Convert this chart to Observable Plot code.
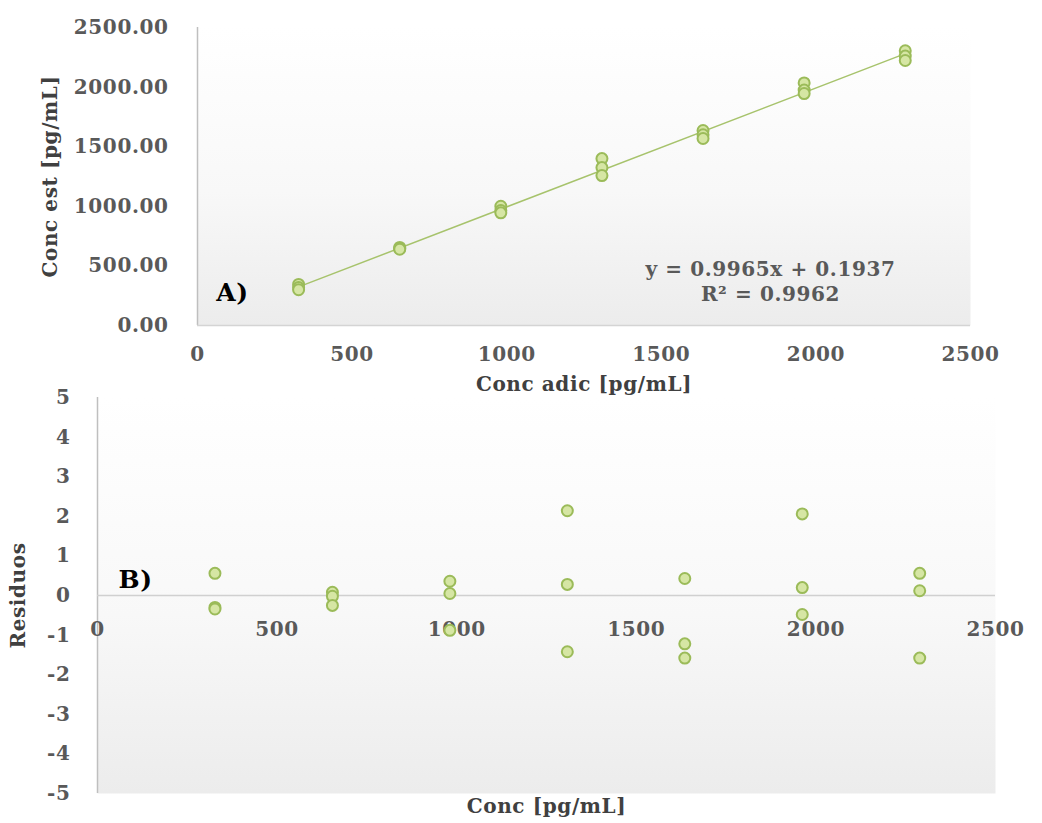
<!DOCTYPE html>
<html>
<head>
<meta charset="utf-8">
<script src="https://cdn.jsdelivr.net/npm/d3@7"></script>
<script src="https://cdn.jsdelivr.net/npm/@observablehq/plot@0.6"></script>
<style>
  html, body { margin: 0; padding: 0; background: #ffffff; }
  #wrap { position: relative; width: 1042px; height: 823px; overflow: hidden; }
  #wrap svg { position: absolute; left: 0; }
</style>
</head>
<body>
<div id="wrap"></div>
<script>
// ---- Data ----
const concLevels = [327, 654, 981, 1308, 1635, 1962, 2289];
const concEst = [
  [345, 318, 300],
  [655, 646, 640],
  [1000, 965, 945],
  [1400, 1325, 1258],
  [1636, 1600, 1569],
  [2035, 1975, 1946],
  [2305, 2260, 2223]
];
const residuos = [
  [0.56, -0.30, -0.34],
  [0.08, -0.02, -0.25],
  [0.36, 0.05, -0.88],
  [2.14, 0.28, -1.42],
  [0.43, -1.22, -1.58],
  [2.06, 0.20, -0.48],
  [0.56, 0.12, -1.58]
];
const xTicksA = [0, 500, 1000, 1500, 2000, 2500];
const yTicksA = [0, 500, 1000, 1500, 2000, 2500];
const xTicksB = [0, 500, 1000, 1500, 2000, 2500];
const yTicksB = [-5, -4, -3, -2, -1, 0, 1, 2, 3, 4, 5];
const equationLines = ["y = 0.9965x + 0.1937", "R² = 0.9962"];

// ---- Tables ----
const dataA = concLevels.flatMap((c, i) => concEst[i].map(v => ({x: c, y: v})));
const dataB = concLevels.flatMap((c, i) => residuos[i].map(v => ({x: c, y: v})));

const FONT = "'DejaVu Serif', 'Liberation Serif', serif";
const TICK = "#595959";
const TITLE = "#404040";
const FS = 20;
const PT_FILL = "#d6e6a4";
const PT_STROKE = "#9bbb59";

function addGradient(svg, id) {
  const ns = "http://www.w3.org/2000/svg";
  const defs = document.createElementNS(ns, "defs");
  const g = document.createElementNS(ns, "linearGradient");
  g.setAttribute("id", id);
  g.setAttribute("x1", "0"); g.setAttribute("y1", "0");
  g.setAttribute("x2", "0"); g.setAttribute("y2", "1");
  [["0", "#ffffff"], ["0.55", "#f8f8f8"], ["1", "#ececec"]].forEach(([o, c]) => {
    const s = document.createElementNS(ns, "stop");
    s.setAttribute("offset", o); s.setAttribute("stop-color", c);
    g.appendChild(s);
  });
  defs.appendChild(g);
  svg.insertBefore(defs, svg.firstChild);
}

const svgStyle = {background: "transparent", fontFamily: FONT, overflow: "visible", letterSpacing: "0.6px"};

// ---- Panel A ----
const plotA = Plot.plot({
  width: 1042,
  height: 400,
  marginTop: 27,
  marginBottom: 75,
  marginLeft: 197,
  marginRight: 72,
  style: svgStyle,
  x: {domain: [0, 2500], label: null, axis: null},
  y: {domain: [0, 2500], label: null, axis: null},
  marks: [
    Plot.frame({fill: "url(#gradA)", stroke: null}),
    Plot.ruleX([0], {stroke: "#bfbfbf", strokeWidth: 1.5}),
    Plot.ruleY([0], {stroke: "#d4d4d4", strokeWidth: 1.5}),
    Plot.axisX(xTicksA, {tickSize: 0, tickPadding: 21, fontSize: FS, fontWeight: "bold", fill: TICK, label: null, tickFormat: d => String(d)}),
    Plot.axisY(yTicksA, {tickSize: 0, tickPadding: 29, fontSize: FS, fontWeight: "bold", fill: TICK, label: null, tickFormat: d3.format(".2f")}),
    Plot.linearRegressionY(dataA, {x: "x", y: "y", stroke: "#a7c36c", strokeWidth: 1.5, ci: 0}),
    Plot.dot(dataA, {x: "x", y: "y", r: 5.5, fill: PT_FILL, stroke: PT_STROKE, strokeWidth: 2}),
    Plot.text(["Conc adic [pg/mL]"], {frameAnchor: "bottom", dy: 65, textAnchor: "middle", fontSize: FS, fontWeight: "bold", fill: TITLE, text: d => d}),
    Plot.text(["Conc est [pg/mL]"], {frameAnchor: "left", dx: -147, rotate: -90, textAnchor: "middle", fontSize: FS, fontWeight: "bold", fill: TITLE, text: d => d}),
    Plot.text([equationLines[0]], {frameAnchor: "bottom-right", dx: -200, dy: -50, textAnchor: "middle", fontSize: FS, fontWeight: "bold", fill: TICK, text: d => d}),
    Plot.text([equationLines[1]], {frameAnchor: "bottom-right", dx: -200, dy: -25, textAnchor: "middle", fontSize: FS, fontWeight: "bold", fill: TICK, text: d => d}),
    Plot.text(["A)"], {frameAnchor: "bottom-left", dx: 35, dy: -25, textAnchor: "middle", fontSize: 25, fontWeight: "bold", fill: "#000000", text: d => d})
  ]
});
addGradient(plotA, "gradA");
plotA.style.top = "0px";

// ---- Panel B ----
const plotB = Plot.plot({
  width: 1042,
  height: 438,
  marginTop: 12,
  marginBottom: 30,
  marginLeft: 97,
  marginRight: 47,
  style: svgStyle,
  x: {domain: [0, 2500], label: null, axis: null},
  y: {domain: [-5, 5], label: null, axis: null},
  marks: [
    Plot.frame({fill: "url(#gradB)", stroke: null}),
    Plot.ruleX([0], {stroke: "#bfbfbf", strokeWidth: 1.5}),
    Plot.ruleY([0], {stroke: "#d0d0d0", strokeWidth: 1.5}),
    Plot.axisY(yTicksB, {tickSize: 0, tickPadding: 27, fontSize: FS, fontWeight: "bold", fill: TICK, label: null, tickFormat: d => String(d)}),
    Plot.text(xTicksB, {x: d => d, y: 0, dy: 34, text: d => String(d), fontSize: FS, fontWeight: "bold", fill: TICK}),
    Plot.dot(dataB, {x: "x", y: "y", r: 5.5, fill: PT_FILL, stroke: PT_STROKE, strokeWidth: 2}),
    Plot.text(["Conc [pg/mL]"], {frameAnchor: "bottom", dy: 19, textAnchor: "middle", fontSize: FS, fontWeight: "bold", fill: TITLE, text: d => d}),
    Plot.text(["Residuos"], {frameAnchor: "left", dx: -79, rotate: -90, textAnchor: "middle", fontSize: FS, fontWeight: "bold", fill: TITLE, text: d => d}),
    Plot.text(["B)"], {frameAnchor: "top-left", dx: 38, dy: 173, textAnchor: "middle", fontSize: 25, fontWeight: "bold", fill: "#000000", text: d => d})
  ]
});
addGradient(plotB, "gradB");
plotB.style.top = "385px";

const wrap = document.getElementById("wrap");
wrap.appendChild(plotA);
wrap.appendChild(plotB);
</script>
</body>
</html>
